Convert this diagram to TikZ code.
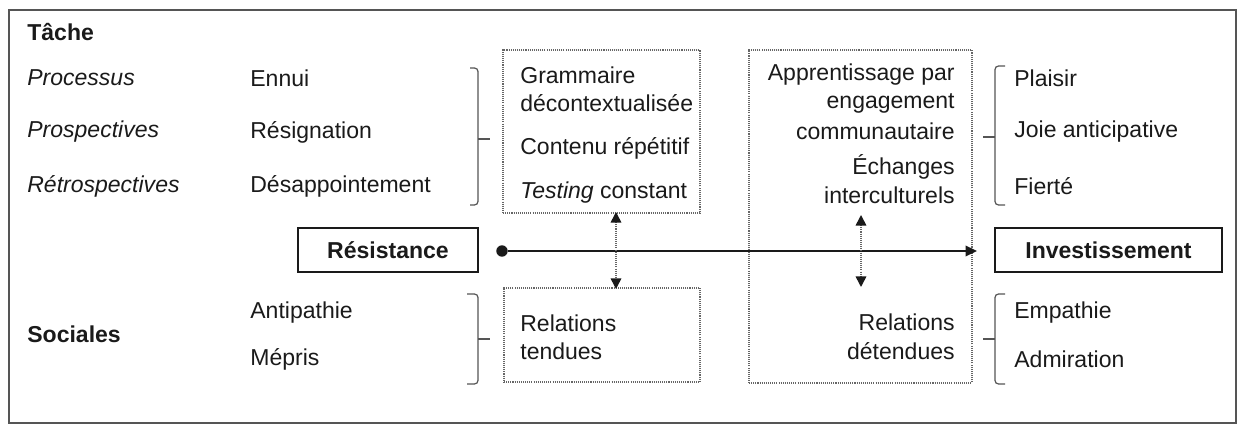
\documentclass[tikz,border=0pt]{standalone}
\usepackage{fontspec}
\setmainfont{Liberation Sans}
\usetikzlibrary{arrows.meta, positioning}
\definecolor{FrameGrey}{HTML}{555555}
\definecolor{DotGrey}{HTML}{666666}
\definecolor{InkBlack}{HTML}{1A1A1A}

\begin{document}
\begin{tikzpicture}[
            x=0.02cm, y=-0.02cm,
            every node/.style = {font=\fontsize{13.1}{16}\selectfont, text=InkBlack, inner sep=0pt},
            item/.style = {anchor=west},
            kind/.style = {anchor=west, font=\fontsize{13.1}{16}\selectfont\itshape},
            head/.style = {anchor=west, font=\fontsize{13.1}{16}\selectfont\bfseries},
            pole/.style = {rectangle, draw=InkBlack, line width=1.3pt, minimum height=0.88cm, font=\fontsize{13.1}{16}\selectfont\bfseries},
            zone/.style = {rectangle, draw=DotGrey, line width=0.8pt, dash pattern=on 0.6pt off 0.6pt},
            brace/.style = {draw=FrameGrey, line width=0.7pt, rounded corners=2pt},
            arrow/.style = {draw=InkBlack, line width=1pt, -{Triangle[width=6pt, length=6.5pt]}},
            swap/.style = {draw=DotGrey, line width=0.9pt, dash pattern=on 0.6pt off 0.6pt, {Triangle[width=6pt, length=6pt, color=InkBlack]}-{Triangle[width=6pt, length=6pt, color=InkBlack]}}
        ]
            \useasboundingbox (0,0) rectangle (1238,425);
            \draw[FrameGrey, line width=1pt] (9,10) rectangle (1236,423);

            % left column
            \node [head] (tache) at (27,32) {Tâche};
            \node [kind] (proc) at (27,78) {Processus};
            \node [kind] (prosp) at (27,132) {Prospectives};
            \node [kind] (retro) at (27,186) {Rétrospectives};
            \node [head] (soc) at (27,334) {Sociales};

            \node [item] (ennui) at (250,78) {Ennui};
            \node [item] (resig) at (250,132) {Résignation};
            \node [item] (desap) at (250,186) {Désappointement};
            \node [item] (antip) at (250,313) {Antipathie};
            \node [item] (mepris) at (250,359) {Mépris};

            % dotted zones
            \node [zone, minimum width=3.94cm, minimum height=3.26cm] (gram) at (601.5,131.5) {};
            \node [zone, minimum width=4.46cm, minimum height=6.66cm] (comm) at (860.5,216.5) {};
            \node [zone, minimum width=3.92cm, minimum height=1.88cm] (tendu) at (602,335) {};

            \node [item] (g1) at (520,75) {Grammaire};
            \node [item] (g2) at (520,103) {décontextualisée};
            \node [item] (g3) at (520,148) {Contenu répétitif};
            \node [item] (g4) at (520,193) {\textit{Testing} constant};
            \node [item] (t1) at (520,323) {Relations};
            \node [item] (t2) at (520,351) {tendues};

            \node [anchor=east] (c1) at (955,75) {Apprentissage par};
            \node [anchor=east] (c2) at (955,103) {engagement};
            \node [anchor=east] (c3) at (955,131) {communautaire};
            \node [anchor=east] (c4) at (955,167) {Échanges};
            \node [anchor=east] (c5) at (955,195) {interculturels};
            \node [anchor=east] (d1) at (955,322) {Relations};
            \node [anchor=east] (d2) at (955,351) {détendues};

            % right column
            \node [item] (plaisir) at (1014,78) {Plaisir};
            \node [item] (joie) at (1014,132) {Joie anticipative};
            \node [item] (fierte) at (1014,186) {Fierté};
            \node [item] (empat) at (1014,313) {Empathie};
            \node [item] (admir) at (1014,359) {Admiration};

            % poles
            \node [pole, minimum width=3.6cm] (resist) at (388,250) {Résistance};
            \node [pole, minimum width=4.54cm] (invest) at (1108.5,250) {Investissement};
            \node [circle, fill=InkBlack, minimum size=6.5pt] (start) at (502,251) {};
            \coordinate (tip) at (977,251);
            \draw [arrow] (start) -- (tip);

            \coordinate (upA) at (616,212);
            \coordinate (downA) at (616,289);
            \coordinate (upB) at (861,215);
            \coordinate (downB) at (861,287);
            \draw [swap] (upA) -- (downA);
            \draw [swap] (upB) -- (downB);

            % braces
            \draw [brace] (470,68) -- (478,68) -- (478,205) -- (470,205);
            \draw [brace] (478,139) -- (490,139);
            \draw [brace] (467,294) -- (478,294) -- (478,384) -- (467,384);
            \draw [brace] (478,339) -- (490,339);
            \draw [brace] (1005,66) -- (995,66) -- (995,205) -- (1005,205);
            \draw [brace] (995,137) -- (983,137);
            \draw [brace] (1005,294) -- (995,294) -- (995,384) -- (1005,384);
            \draw [brace] (995,339) -- (983,339);
        \end{tikzpicture}
\end{document}
